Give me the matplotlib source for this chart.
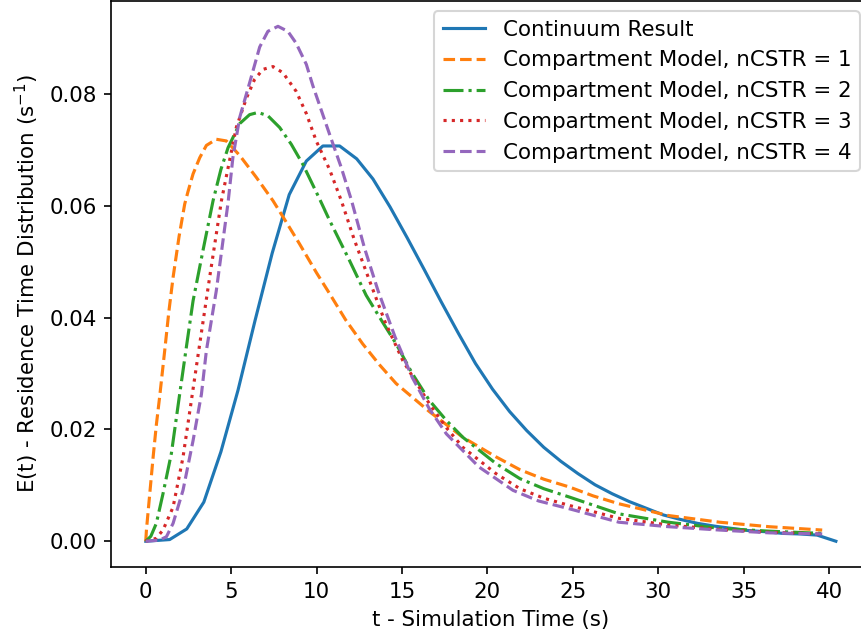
"""E(t) residence time distribution: continuum vs compartment models."""
import matplotlib
matplotlib.use("Agg")
import matplotlib.pyplot as plt

# continuum (CFD) result
T_CONT = [0, 1.4, 2.4, 3.4, 4.4, 5.4, 6.4, 7.4, 8.4, 9.4, 10.37, 11.35, 12.35, 13.3,
          14.3, 15.3, 16.3, 17.3, 18.3, 19.3, 20.3, 21.3, 22.3, 23.3, 24.3, 25.3,
          26.3, 27.3, 28.3, 29.3, 30.3, 31.3, 32.3, 33.3, 34.3, 35.3, 36.3, 37.3,
          38.3, 39.3, 40.4]
E_CONT = [0, 0.0003, 0.0022, 0.0070, 0.0160, 0.0270, 0.0395, 0.0515, 0.0620, 0.0680,
          0.0707, 0.0707, 0.0684, 0.0648, 0.0598, 0.0543, 0.0486, 0.0428, 0.0372,
          0.0318, 0.0272, 0.0232, 0.0198, 0.0168, 0.0143, 0.0121, 0.0101, 0.0085,
          0.0071, 0.0059, 0.0047, 0.0039, 0.0032, 0.0027, 0.0023, 0.0019, 0.0017,
          0.0014, 0.0013, 0.0011, 0.0]

# compartment models
T_N1 = [0, 0.04, 0.25, 0.43, 0.62, 0.82, 1.11, 1.35, 1.6, 1.95, 2.28, 2.47, 2.77,
        3.16, 3.55, 4.13, 4.72, 5.5, 6.47, 7.45, 8.2, 9.0, 10.0, 10.76, 11.7, 12.7,
        13.7, 14.66, 16.6, 18.56, 20.5, 21.9, 23.3, 24.8, 26.2, 27.7, 30.6, 33.6,
        36.5, 39.6]
E_N1 = [0, 0.002, 0.0090, 0.0150, 0.0208, 0.0260, 0.0341, 0.0410, 0.0472, 0.0545,
        0.0603, 0.0625, 0.0657, 0.0686, 0.0708, 0.0719, 0.0716, 0.0690, 0.0651,
        0.0609, 0.0572, 0.0532, 0.0480, 0.0443, 0.0396, 0.0353, 0.0315, 0.0282,
        0.0232, 0.0186, 0.0151, 0.0128, 0.0111, 0.0097, 0.0081, 0.0067, 0.0046,
        0.0034, 0.0026, 0.0020]

T_N2 = [0, 0.3, 0.62, 1.01, 1.5, 1.99, 2.4, 2.77, 3.35, 3.94, 4.4, 4.82, 5.5, 6.08,
        6.57, 7.15, 7.84, 8.52, 9.2, 10.18, 10.76, 11.93, 12.9, 13.8, 14.66, 15.6,
        16.6, 17.6, 18.56, 20.5, 21.9, 23.3, 24.8, 27.7, 30.6, 33.6, 36.5, 39.6]
E_N2 = [0, 0.0009, 0.0032, 0.0085, 0.0157, 0.0264, 0.0352, 0.0430, 0.0520, 0.0609,
        0.0665, 0.0704, 0.0747, 0.0763, 0.0767, 0.0761, 0.0740, 0.0710, 0.0674,
        0.0612, 0.0574, 0.0502, 0.0440, 0.0395, 0.0353, 0.0300, 0.0252, 0.0216,
        0.0186, 0.0139, 0.0112, 0.0094, 0.0079, 0.0049, 0.0034, 0.0023, 0.0018,
        0.0014]

T_N3 = [0, 0.6, 1.01, 1.6, 2.18, 2.73, 3.16, 3.74, 4.43, 4.82, 5.3, 5.9, 6.37, 6.86,
        7.45, 8.03, 8.8, 9.4, 9.98, 10.76, 11.45, 12.2, 13.1, 14.0, 15.05, 16.6,
        17.6, 18.56, 20.5, 21.9, 23.3, 24.8, 27.7, 30.6, 33.6, 36.5, 39.6]
E_N3 = [0, 0.0005, 0.002, 0.0061, 0.0150, 0.0264, 0.0353, 0.0472, 0.0609, 0.0668,
        0.0740, 0.0793, 0.0826, 0.0844, 0.0849, 0.0838, 0.0805, 0.0765, 0.0716,
        0.0665, 0.0609, 0.0540, 0.0466, 0.0393, 0.0323, 0.0246, 0.0203, 0.0168,
        0.0121, 0.0094, 0.0077, 0.0064, 0.0041, 0.0029, 0.0021, 0.0016, 0.0013]

T_N4 = [0, 0.8, 1.21, 1.6, 2.18, 2.77, 3.26, 3.55, 4.13, 4.82, 5.1, 5.5, 6.08, 6.67,
        7.15, 7.74, 8.32, 8.8, 9.4, 9.78, 10.76, 11.45, 12.05, 12.8, 13.6, 14.6,
        15.6, 16.6, 17.6, 19.5, 21.5, 23.0, 24.8, 27.7, 30.6, 33.6, 36.5, 39.6]
E_N4 = [0, 0.0002, 0.0008, 0.0032, 0.0091, 0.0180, 0.0263, 0.0341, 0.0448, 0.0606,
        0.0686, 0.0758, 0.0820, 0.0884, 0.0912, 0.0921, 0.0912, 0.0891, 0.0853,
        0.0815, 0.0728, 0.0668, 0.0609, 0.0525, 0.0448, 0.0365, 0.0293, 0.0237,
        0.0192, 0.0133, 0.0091, 0.0072, 0.0058, 0.0034, 0.0026, 0.0020, 0.0015,
        0.0013]

LABELS = ["Continuum Result"] + [f"Compartment Model, nCSTR = {n}" for n in (1, 2, 3, 4)]

plt.rcParams["font.size"] = 10.25

fig = plt.figure(figsize=(861 / 150, 639 / 150), dpi=150)
ax = fig.add_axes([0.1292, 0.1127, 0.8817, 0.8864])

ax.plot(T_CONT, E_CONT, "-", color="C0", label=LABELS[0])
ax.plot(T_N1, E_N1, "--", color="C1", label=LABELS[1])
ax.plot(T_N2, E_N2, "-.", color="C2", label=LABELS[2])
ax.plot(T_N3, E_N3, ":", color="C3", label=LABELS[3])
ax.plot(T_N4, E_N4, "--", color="C4", label=LABELS[4])

ax.set_xticks(range(0, 41, 5))
ax.set_yticks([0.0, 0.02, 0.04, 0.06, 0.08])
ax.set_xlabel("t - Simulation Time (s)")
ax.set_ylabel("E(t) - Residence Time Distribution (s$^{-1}$)")
ax.legend(loc="upper right")

fig.savefig("out.png", dpi=150)
